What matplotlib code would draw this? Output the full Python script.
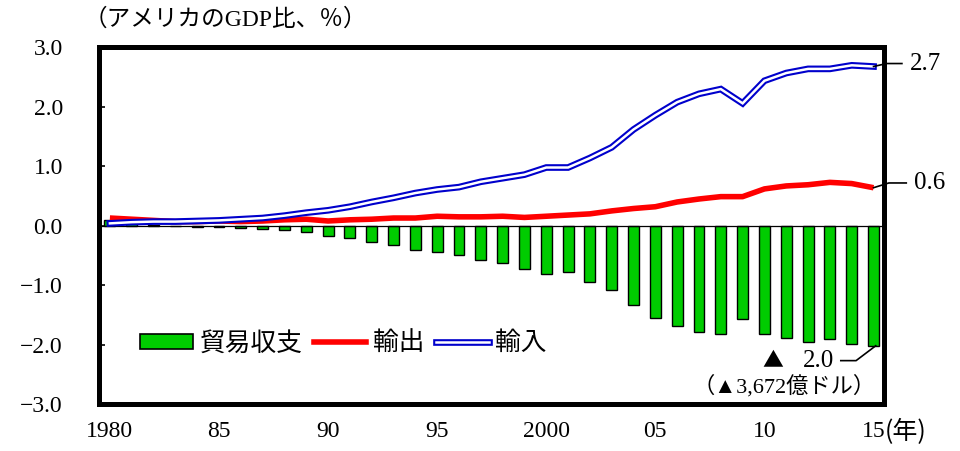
"""US-China trade relative to US GDP: balance bars with export/import lines."""

import numpy as np
import matplotlib

matplotlib.use("Agg")

import matplotlib.pyplot as plt
from matplotlib.lines import Line2D
from matplotlib.patches import Patch
from matplotlib.legend_handler import HandlerTuple


YEARS = np.arange(1980, 2016)
BALANCE = [0.09, 0.05, 0.02, -0.01, -0.02, -0.02, -0.04, -0.06, -0.07, -0.11,
           -0.17, -0.21, -0.28, -0.33, -0.40, -0.45, -0.49, -0.58, -0.62, -0.72,
           -0.82, -0.78, -0.94, -1.08, -1.33, -1.55, -1.69, -1.78, -1.83, -1.57,
           -1.82, -1.89, -1.95, -1.90, -1.99, -2.02]
EXPORTS = [0.13, 0.11, 0.09, 0.07, 0.07, 0.08, 0.07, 0.08, 0.10, 0.11,
           0.08, 0.10, 0.11, 0.13, 0.13, 0.16, 0.15, 0.15, 0.16, 0.14,
           0.16, 0.18, 0.20, 0.25, 0.29, 0.32, 0.40, 0.45, 0.49, 0.49,
           0.62, 0.67, 0.69, 0.73, 0.71, 0.64]
IMPORTS = [0.04, 0.06, 0.07, 0.07, 0.08, 0.09, 0.11, 0.13, 0.17, 0.22,
           0.26, 0.32, 0.40, 0.47, 0.55, 0.61, 0.65, 0.74, 0.80, 0.86,
           0.98, 0.98, 1.14, 1.32, 1.62, 1.86, 2.08, 2.22, 2.30, 2.06,
           2.44, 2.57, 2.64, 2.64, 2.70, 2.68]
X_TICKS = [1980, 1985, 1990, 1995, 2000, 2005, 2010, 2015]
X_LABELS = ["1980", "85", "90", "95", "2000", "05", "10", "15"]
Y_TICKS = [-3, -2, -1, 0, 1, 2, 3]
Y_LABELS = ["\u22123.0", "\u22122.0", "\u22121.0", "0.0", "1.0", "2.0", "3.0"]

SERIF = ["Liberation Serif", "Noto Sans CJK JP", "DejaVu Sans"]
CJK = ["Noto Sans CJK JP", "DejaVu Sans"]
GREEN = "#00CC00"
RED = "#FF0000"
BLUE = "#0000CC"


def main() -> None:
    fig = plt.figure(figsize=(9.6, 4.51), dpi=100)
    ax = fig.add_axes([0.1031, 0.1042, 0.8182, 0.7905])

    ax.bar(YEARS, BALANCE, width=0.5, color=GREEN, edgecolor="black", linewidth=1.0, zorder=2)
    ax.axhline(0, color="black", linewidth=0.9, zorder=3)
    ax.plot(YEARS, EXPORTS, color=RED, linewidth=4.0, solid_capstyle="butt", zorder=4)
    ax.plot(YEARS, IMPORTS, color=BLUE, linewidth=4.8, solid_joinstyle="miter", zorder=5)
    ax.plot(YEARS, IMPORTS, color="white", linewidth=1.8, solid_joinstyle="miter", zorder=6)

    ax.set_xlim(1979.5, 2015.5)
    ax.set_ylim(-3, 3)
    ax.set_yticks(Y_TICKS)
    ax.set_yticklabels(Y_LABELS, family=SERIF, fontsize=17)
    ax.set_xticks(X_TICKS)
    ax.set_xticklabels(X_LABELS, family=SERIF, fontsize=17)
    ax.tick_params(axis="y", direction="in", length=4.5, width=1.2, pad=26)
    ax.tick_params(axis="x", length=0, pad=12)
    for spine in ax.spines.values():
        spine.set_linewidth(3.6)
        spine.set_zorder(10)

    # leader lines and end labels
    ax.plot([2015, 2015.6, 2016.3], [2.68, 2.73, 2.73], color="black", linewidth=1.2, clip_on=False, zorder=11)
    ax.text(2016.65, 2.73, "2.7", family=SERIF, fontsize=18, va="center", ha="left")
    ax.plot([2015, 2015.7, 2016.5], [0.64, 0.72, 0.72], color="black", linewidth=1.2, clip_on=False, zorder=11)
    ax.text(2016.85, 0.72, "0.6", family=SERIF, fontsize=18, va="center", ha="left")
    ax.plot([2015.1, 2014.2, 2013.5], [-2.02, -2.27, -2.27], color="black", linewidth=1.2, zorder=11)
    ax.text(2013.2, -2.27, "2.0", family=SERIF, fontsize=18, va="center", ha="right")
    ax.text(2010.4, -2.27, "▲", family=CJK, fontsize=15, va="center", ha="center")
    ax.text(2010.9, -2.7, "（▲3,672億ドル）", family=SERIF, fontsize=16, va="center", ha="center")

    fig.text(84 / 960, 1 - 20 / 451, "（アメリカのGDP比、％）", family=SERIF, fontsize=17, va="center", ha="left")
    fig.text(885 / 960, 1 - 432 / 451, "(年)", family=CJK, fontsize=18, va="center", ha="left")

    blue_outer = Line2D([], [], color=BLUE, linewidth=4.8)
    blue_inner = Line2D([], [], color="white", linewidth=1.8)
    handles = [
        Patch(facecolor=GREEN, edgecolor="black", linewidth=1.2),
        Line2D([], [], color=RED, linewidth=4.0),
        (blue_outer, blue_inner),
    ]
    ax.legend(
        handles,
        ["貿易収支", "輸出", "輸入"],
        loc="center left",
        bbox_to_anchor=(0.036, -1.98 / 6 + 0.5),
        ncol=3,
        frameon=False,
        prop={"family": CJK, "size": 18.5},
        handlelength=2.05,
        handleheight=0.55,
        handletextpad=0.25,
        columnspacing=0.45,
        borderpad=0,
        handler_map={tuple: HandlerTuple(ndivide=1, pad=0)},
    )

    fig.savefig("out.png", dpi=100, facecolor="white")
    plt.close(fig)


if __name__ == "__main__":
    main()
